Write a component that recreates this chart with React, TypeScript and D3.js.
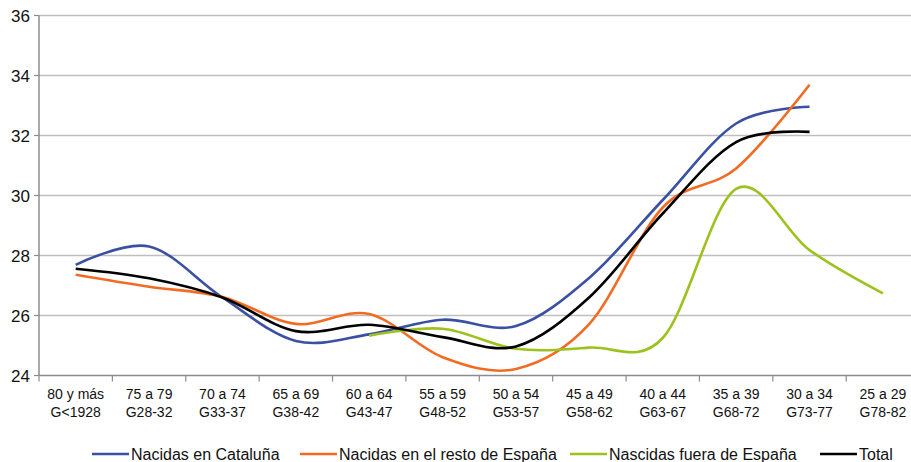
import React from "react";
import * as d3 from "d3";

const categories: string[][] = [
  ["80 y más", "G<1928"],
  ["75 a 79", "G28-32"],
  ["70 a 74", "G33-37"],
  ["65 a 69", "G38-42"],
  ["60 a 64", "G43-47"],
  ["55 a 59", "G48-52"],
  ["50 a 54", "G53-57"],
  ["45 a 49", "G58-62"],
  ["40 a 44", "G63-67"],
  ["35 a 39", "G68-72"],
  ["30 a 34", "G73-77"],
  ["25 a 29", "G78-82"],
];

const cataluna: (number | null)[] = [27.69, 28.3, 26.6, 25.15, 25.37, 25.86, 25.65, 27.26, 29.85, 32.4, 32.96, null];
const restoEspana: (number | null)[] = [27.36, 26.96, 26.62, 25.72, 26.05, 24.61, 24.22, 25.72, 29.6, 30.9, 33.69, null];
const fueraEspana: (number | null)[] = [null, null, null, null, 25.33, 25.56, 24.89, 24.93, 25.25, 30.22, 28.18, 26.74];
const total: (number | null)[] = [27.56, 27.24, 26.6, 25.48, 25.69, 25.28, 24.97, 26.61, 29.4, 31.78, 32.12, null];

const yTicks: number[] = [24, 26, 28, 30, 32, 34, 36];

const seriesNames: string[] = [
  "Nacidas en Cataluña",
  "Nacidas en el resto de España",
  "Nascidas fuera de España",
  "Total",
];

const series = [cataluna, restoEspana, fueraEspana, total];
const colors = ["#3A51A3", "#F26B22", "#9CC21E", "#000000"];
const legendX = [92, 300, 570, 820];

const W = 911;
const H = 462;
const FONT = "'Liberation Sans', Arial, sans-serif";

export default function App() {
  const x = d3
    .scaleBand<number>()
    .domain(categories.map((_, i) => i))
    .range([39, 919.6])
    .paddingInner(0)
    .paddingOuter(0);
  const y = d3.scaleLinear().domain([24, 36]).range([375.5, 15.5]);
  const cx = (i: number) => (x(i) as number) + x.bandwidth() / 2;

  const line = d3
    .line<number | null>()
    .defined((d) => d !== null)
    .x((_, i) => cx(i))
    .y((d) => y(d as number))
    .curve(d3.curveCardinal.tension(0));

  const boundaries = categories.map((_, i) => x(i) as number).concat([919.6]);

  return (
    <div style={{ position: "fixed", left: 0, top: 0, width: W, height: H, background: "#fff" }}>
      <svg width={W} height={H} style={{ display: "block" }} fontFamily={FONT}>
        <rect x={0} y={0} width={W} height={H} fill="#ffffff" />
        {yTicks
          .filter((t) => t !== 24)
          .map((t) => (
            <line key={"g" + t} x1={39} x2={W} y1={y(t)} y2={y(t)} stroke="#BFBFBF" strokeWidth={1.5} />
          ))}
        {yTicks.map((t) => (
          <g key={"yt" + t}>
            <line x1={34} x2={39} y1={y(t)} y2={y(t)} stroke="#8C8C8C" strokeWidth={1.2} />
            <text x={30} y={y(t) + 6} textAnchor="end" fontSize={17} fill="#111">
              {t}
            </text>
          </g>
        ))}
        <line x1={39} x2={39} y1={y(36)} y2={y(24)} stroke="#8C8C8C" strokeWidth={1.5} />
        <line x1={39} x2={W} y1={y(24)} y2={y(24)} stroke="#8C8C8C" strokeWidth={1.5} />
        {boundaries.map((b, i) => (
          <line key={"xt" + i} x1={b} x2={b} y1={y(24)} y2={y(24) + 6} stroke="#8C8C8C" strokeWidth={1.2} />
        ))}
        {categories.map((c, i) => (
          <text key={"xl" + i} x={cx(i)} textAnchor="middle" fontSize={14} fill="#111">
            <tspan x={cx(i)} y={399}>
              {c[0]}
            </tspan>
            <tspan x={cx(i)} y={417}>
              {c[1]}
            </tspan>
          </text>
        ))}
        {series.map((s, k) => (
          <path
            key={"s" + k}
            d={line(s) || ""}
            fill="none"
            stroke={colors[k]}
            strokeWidth={2.6}
            strokeLinejoin="round"
            strokeLinecap="butt"
          />
        ))}
        {seriesNames.map((n, k) => (
          <g key={"lg" + k}>
            <line x1={legendX[k]} x2={legendX[k] + 37} y1={454} y2={454} stroke={colors[k]} strokeWidth={2.6} />
            <text x={legendX[k] + 39} y={460} fontSize={16} fill="#111">
              {n}
            </text>
          </g>
        ))}
      </svg>
    </div>
  );
}
